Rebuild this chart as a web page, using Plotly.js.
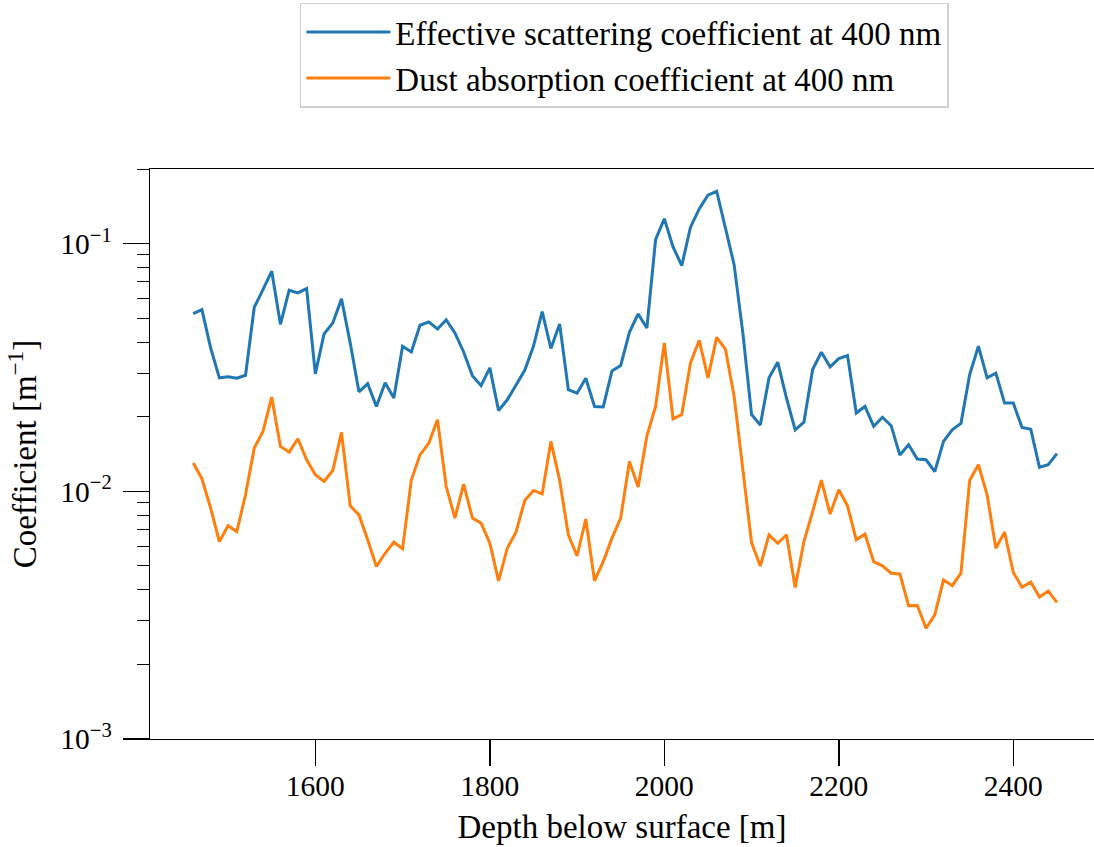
<!DOCTYPE html>
<html>
<head>
<meta charset="utf-8">
<script src="https://cdn.plot.ly/plotly-3.0.1.min.js"></script>
<style>html,body{margin:0;padding:0;background:#fff;}#chart{width:1094px;height:847px;}</style>
</head>
<body>
<div id="chart"></div>
<script>
const depth = [1460,1470,1480,1490,1500,1510,1520,1530,1540,1550,
1560,1570,1580,1590,1600,1610,1620,1630,1640,1650,
1660,1670,1680,1690,1700,1710,1720,1730,1740,1750,
1760,1770,1780,1790,1800,1810,1820,1830,1840,1850,
1860,1870,1880,1890,1900,1910,1920,1930,1940,1950,
1960,1970,1980,1990,2000,2010,2020,2030,2040,2050,
2060,2070,2080,2090,2100,2110,2120,2130,2140,2150,
2160,2170,2180,2190,2200,2210,2220,2230,2240,2250,
2260,2270,2280,2290,2300,2310,2320,2330,2340,2350,
2360,2370,2380,2390,2400,2410,2420,2430,2440,2450];

const scattering = [0.0521,0.0541,0.0379,0.0287,0.0290,0.0286,0.0294,0.0553,0.0652,0.0773,
0.0472,0.0648,0.0632,0.0658,0.0298,0.0432,0.0478,0.0598,0.0397,0.0252,
0.0272,0.0220,0.0274,0.0238,0.0385,0.0365,0.0468,0.0483,0.0452,0.0492,
0.0436,0.0365,0.0293,0.0267,0.0315,0.0212,0.0234,0.0269,0.0308,0.0385,
0.0531,0.0377,0.0474,0.0257,0.0249,0.0286,0.0220,0.0219,0.0306,0.0322,
0.0438,0.0520,0.0456,0.1037,0.126,0.097,0.0815,0.1164,0.138,0.1567,
0.1626,0.1156,0.0822,0.0436,0.0204,0.0185,0.0287,0.0332,0.0238,0.0177,
0.0190,0.0310,0.0364,0.0318,0.0343,0.0353,0.0207,0.0220,0.0183,0.0199,
0.0184,0.0140,0.0154,0.0135,0.0134,0.0120,0.0159,0.0177,0.0188,0.0296,
0.0385,0.0287,0.0300,0.0227,0.0227,0.0181,0.0178,0.0125,0.0128,0.0142];

const absorption = [0.0130,0.01124,0.00855,0.00627,0.00726,0.00688,0.00968,0.01494,0.01745,0.0240,
0.01517,0.0144,0.0163,0.0134,0.01166,0.01096,0.01213,0.0173,0.00873,0.00803,
0.00637,0.00497,0.00562,0.00623,0.00586,0.0111,0.01403,0.01564,0.01945,0.01045,
0.0078,0.0107,0.0078,0.00744,0.00617,0.00435,0.00589,0.00684,0.00918,0.01008,
0.00975,0.0159,0.0111,0.00667,0.00548,0.00773,0.00435,0.0052,0.00647,0.0078,
0.0132,0.0104,0.0167,0.0220,0.0397,0.0196,0.0204,0.0330,0.0407,0.0287,
0.0418,0.0375,0.0242,0.0124,0.00621,0.00499,0.00667,0.00617,0.00667,0.00409,
0.00627,0.00828,0.0111,0.00809,0.01014,0.00873,0.00637,0.00672,0.0052,0.0050,
0.00467,0.00464,0.00345,0.00346,0.0028,0.00317,0.00439,0.00416,0.00467,0.01106,
0.0128,0.00968,0.00589,0.00684,0.0047,0.0041,0.0043,0.00374,0.00396,0.00356];

const seriesNames = ["Effective scattering coefficient at 400 nm", "Dust absorption coefficient at 400 nm"];
const xTickVals = [1600, 1800, 2000, 2200, 2400];
const yTickVals = [0.001, 0.01, 0.1];
const yTickText = ["10<sup>\u22123</sup>", "10<sup>\u22122</sup>", "10<sup>\u22121</sup>"];

const minorVals = [];
[0.001, 0.01, 0.1].forEach(d => { for (let m = 2; m <= 9; m++) { if (m * d <= 0.2) minorVals.push(m * d); } });

const FONT = "Liberation Serif, DejaVu Serif, serif";
const TEXT_SIZE = 33;
const TICK_SIZE = 29.5;

const traces = [
  {x: depth, y: scattering, type: 'scatter', mode: 'lines', name: seriesNames[0],
   line: {color: '#1f77b4', width: 3}},
  {x: depth, y: absorption, type: 'scatter', mode: 'lines', name: seriesNames[1],
   line: {color: '#ff7f0e', width: 3}}
];

const layout = {
  width: 1094, height: 847,
  margin: {l: 150, r: 0, t: 169, b: 108, pad: 0},
  paper_bgcolor: '#ffffff', plot_bgcolor: '#ffffff',
  font: {family: FONT, size: TEXT_SIZE, color: '#000'},
  showlegend: true,
  legend: {
    x: 0.5025, xanchor: 'center', y: 1.292, yanchor: 'top',
    bgcolor: 'rgba(255,255,255,0.8)', bordercolor: '#d0d0d0', borderwidth: 1.5,
    font: {family: FONT, size: TEXT_SIZE, color: '#000'},
    tracegroupgap: 0, itemwidth: 84
  },
  xaxis: {
    range: [1410.5, 2492.5], showgrid: false, zeroline: false,
    showline: true, linecolor: '#000', linewidth: 1.3, mirror: true,
    ticks: 'outside', ticklen: 26, tickwidth: 1.5, tickcolor: '#000',
    tickmode: 'array', tickvals: xTickVals, ticktext: xTickVals.map(String),
    tickfont: {family: FONT, size: TICK_SIZE}, ticklabelstandoff: -6,
    title: {text: 'Depth below surface [m]', font: {family: FONT, size: TEXT_SIZE}, standoff: 14}
  },
  yaxis: {
    type: 'log', range: [-3, Math.log10(0.2)], showgrid: false, zeroline: false,
    showline: true, linecolor: '#000', linewidth: 1.3, mirror: false,
    ticks: 'outside', ticklen: 26, tickwidth: 1.5, tickcolor: '#000',
    tickmode: 'array', tickvals: yTickVals, ticktext: yTickText,
    tickfont: {family: FONT, size: TICK_SIZE}, ticklabelstandoff: 5,
    minor: {tickmode: 'array', tickvals: minorVals, ticks: 'outside', ticklen: 12, tickwidth: 1, tickcolor: '#000', showgrid: false},
    title: {text: 'Coefficient [m<sup>\u22121</sup>]', font: {family: FONT, size: TEXT_SIZE}, standoff: 13}
  }
};

Plotly.newPlot('chart', traces, layout, {displayModeBar: false, staticPlot: true});
</script>
</body>
</html>
